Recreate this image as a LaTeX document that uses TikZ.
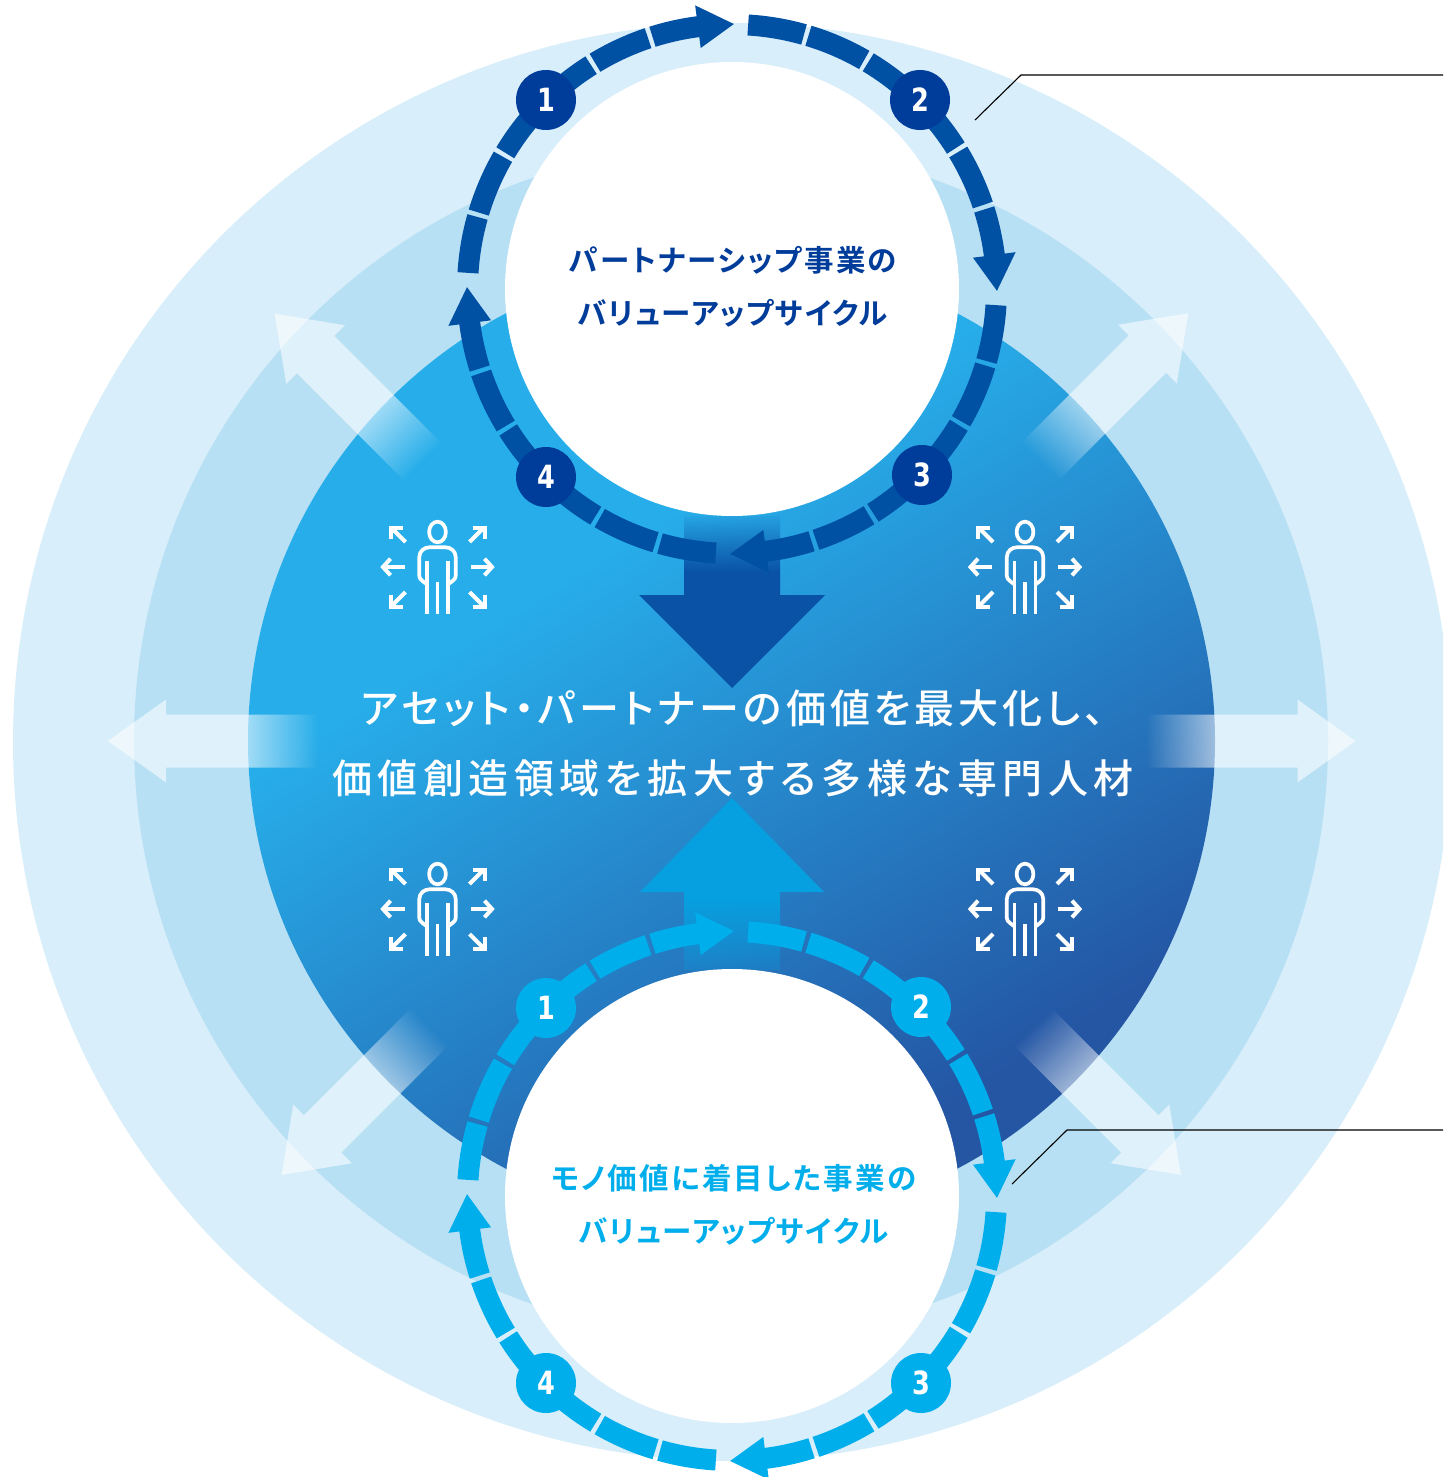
\documentclass[tikz,border=0pt]{standalone}
\usepackage{fontspec}
\usetikzlibrary{fadings}
\newfontfamily\jpboldA{Noto Sans CJK JP Bold}[RawFeature={+palt},LetterSpace=7.5]
\newfontfamily\jpboldB{Noto Sans CJK JP Bold}[RawFeature={+palt},LetterSpace=5]
\newfontfamily\jpbigA{Noto Sans CJK JP Medium}[RawFeature={+palt},LetterSpace=10]
\newfontfamily\jpbigB{Noto Sans CJK JP Medium}[RawFeature={+palt},LetterSpace=13.7]
\newfontfamily\numfont{DejaVu Sans Bold}[FakeStretch=0.8]
\definecolor{outerC}{HTML}{D8EEFA}
\definecolor{midC}{HTML}{B8E0F4}
\definecolor{coreA}{HTML}{27AEEA}
\definecolor{coreB}{HTML}{2456A4}
\definecolor{darkring}{HTML}{0050A4}
\definecolor{darkbadge}{HTML}{003C9A}
\definecolor{lightring}{HTML}{00AEEC}
\definecolor{downC}{HTML}{0A52A6}
\definecolor{upC}{HTML}{06A0E0}
\pgfdeclarehorizontalshading{coreshade}{100bp}{color(0bp)=(coreA);color(38bp)=(coreA);color(72bp)=(coreB);color(100bp)=(coreB)}
\begin{tikzfadingfrompicture}[name=whitearrowfade,x=1pt,y=1pt]
\shade[left color=transparent!100,right color=transparent!0] (-105,-60) rectangle (-35,60);
\fill[transparent!0] (-36,-60) rectangle (106,60);
\end{tikzfadingfrompicture}
\begin{tikzfadingfrompicture}[name=bigarrowfade,x=1pt,y=1pt]
\shade[left color=transparent!100,right color=transparent!0] (-90,-110) rectangle (-30,110);
\fill[transparent!0] (-31,-110) rectangle (90,110);
\end{tikzfadingfrompicture}
\begin{tikzfadingfrompicture}[name=uparrowfade,x=1pt,y=1pt]
\shade[left color=transparent!82,right color=transparent!0] (-90,-110) rectangle (-12,110);
\fill[transparent!0] (-13,-110) rectangle (90,110);
\end{tikzfadingfrompicture}
\tikzset{
  iconline/.style={draw=white,line width=3.7pt,line join=round},
  iconarrow/.style={draw=white,line width=4pt},
  leader/.style={draw=black,line width=1.1pt},
  personicon/.pic={
    \draw[iconline] (0,-35) ellipse [x radius=8.4pt,y radius=10.3pt];
    \draw[iconline] (-10.5,17.5) -- (-15,14) .. controls (-17,12.5) and (-18.2,11) .. (-18.2,9) -- (-18.2,-10) .. controls (-18.2,-16) and (-13,-19.7) .. (-8,-19.7) -- (8,-19.7) .. controls (13,-19.7) and (18.2,-16) .. (18.2,-10) -- (18.2,9) .. controls (18.2,11) and (17,12.5) .. (15,14) -- (10.5,17.5);
    \draw[iconline] (-10.5,-6) -- (-10.5,46.7) (10.5,-6) -- (10.5,46.7) (0,15) -- (0,46.7);
    \foreach \sx in {-1,1}{
      \draw[iconarrow] (\sx*33,0) -- (\sx*53,0);
      \draw[iconarrow] (\sx*47,-8.3) -- (\sx*54.5,0) -- (\sx*47,8.3);
      \draw[iconarrow] (\sx*32,-25) -- (\sx*46,-39);
      \draw[iconarrow] (\sx*35,-39.5) -- (\sx*47,-39.5) -- (\sx*47,-28);
      \draw[iconarrow] (\sx*32,25) -- (\sx*46,39);
      \draw[iconarrow] (\sx*35,39.5) -- (\sx*47,39.5) -- (\sx*47,28);
    }
  }
}
% whole cycle ring: cx, cy, colour
\newcommand{\ringseg}[5]{\draw[#3,line width=21pt,line join=round] plot[domain=#4:#5,samples=22,variable=\t] ({#1+264.5*sin(\t)},{#2-264.5*cos(\t)});}
\newcommand{\quadrant}[4]{%
  \ringseg{#1}{#2}{#3}{#4+3.5}{#4+15.8}
  \ringseg{#1}{#2}{#3}{#4+16.8}{#4+30}
  \ringseg{#1}{#2}{#3}{#4+31}{#4+57.8}
  \ringseg{#1}{#2}{#3}{#4+58.8}{#4+71.5}
  \ringseg{#1}{#2}{#3}{#4+72.5}{#4+83}
  \fill[#3] ({#1+286*sin(#4+82.6)},{#2-286*cos(#4+82.6)}) -- ({#1+265*sin(#4+90.4)},{#2-265*cos(#4+90.4)}) -- ({#1+243*sin(#4+82.6)},{#2-243*cos(#4+82.6)}) -- cycle;
}
\newcommand{\whitearrow}[3]{%
  \begin{scope}[transform canvas={shift={(#1,#2)},rotate=#3}]
    \fill[white,opacity=0.56,path fading=whitearrowfade,fit fading=false]
      (-104.5,-26.5) -- (46.5,-26.5) -- (46.5,-41.5) -- (104.5,0) -- (46.5,41.5) -- (46.5,26.5) -- (-104.5,26.5) -- cycle;
  \end{scope}
}
\begin{document}
\begin{tikzpicture}[x=1pt,y=-1pt]
\useasboundingbox (0,0) rectangle (1443,1477);
\clip (0,0) rectangle (1443,1477);
\fill[white] (0,0) rectangle (1443,1477);
% concentric discs
\fill[outerC] (732,742) circle [radius=719pt];
\fill[midC] (731,741) circle [radius=597pt];
\shade[shading=coreshade,shading angle=-58] (731.5,741) circle [radius=483.5pt];
% big vertical arrows
\begin{scope}[transform canvas={shift={(732,602)},rotate=-90}]
  \fill[downC,path fading=bigarrowfade,fit fading=false]
    (-86,-48) -- (-7,-48) -- (-7,-93) -- (86,0) -- (-7,93) -- (-7,48) -- (-86,48) -- cycle;
\end{scope}
\begin{scope}[transform canvas={shift={(732,884)},rotate=90}]
  \fill[upC,path fading=uparrowfade,fit fading=false]
    (-86,-48) -- (-8,-48) -- (-8,-92) -- (86,0) -- (-8,92) -- (-8,48) -- (-86,48) -- cycle;
\end{scope}
% white radiating arrows
\whitearrow{212.5}{741}{180}
\whitearrow{1251}{741}{0}
\whitearrow{348.5}{387.5}{135}
\whitearrow{1114.5}{387}{45}
\whitearrow{355.5}{1101}{225}
\whitearrow{1107}{1101}{315}
% white discs
\fill[white] (732,289) circle [radius=227pt];
\fill[white] (732,1196) circle [radius=227pt];
% leaders
\draw[leader] (975,120) -- (1021,75) -- (1443,75);
\draw[leader] (1012,1184) -- (1067,1130) -- (1443,1130);
% rings
\quadrant{732}{289}{darkring}{0}
\quadrant{732}{289}{darkring}{90}
\quadrant{732}{289}{darkring}{180}
\quadrant{732}{289}{darkring}{270}
\quadrant{732}{1196}{lightring}{0}
\quadrant{732}{1196}{lightring}{90}
\quadrant{732}{1196}{lightring}{180}
\quadrant{732}{1196}{lightring}{270}
% badges
\tikzset{badge/.style={circle,minimum size=60pt,inner sep=0pt,text=white,font=\numfont\fontsize{32}{32}\selectfont}}
\node[badge,fill=darkbadge] (a1) at (546,100) {1};
\node[badge,fill=darkbadge] (a2) at (920,100) {2};
\node[badge,fill=darkbadge] (a3) at (922,475) {3};
\node[badge,fill=darkbadge] (a4) at (546,477) {4};
\node[badge,fill=lightring] (b1) at (546,1008) {1};
\node[badge,fill=lightring] (b2) at (921,1007) {2};
\node[badge,fill=lightring] (b3) at (921,1383) {3};
\node[badge,fill=lightring] (b4) at (546,1383) {4};
% labels
\tikzset{cyclelabelA/.style={inner sep=0pt,font=\jpboldA\fontsize{29.5}{31}\selectfont},
         cyclelabelB/.style={inner sep=0pt,font=\jpboldB\fontsize{29.5}{31}\selectfont}}
\node[cyclelabelA,text=darkbadge] (t1) at (733,260) {パートナーシップ事業の};
\node[cyclelabelB,text=darkbadge] (t2) at (733,313) {バリューアップサイクル};
\node[cyclelabelA,text=lightring] (t3) at (734,1178) {モノ価値に着目した事業の};
\node[cyclelabelB,text=lightring] (t4) at (734,1231) {バリューアップサイクル};
\node[inner sep=0pt,text=white,font=\jpbigA\fontsize{40}{42}\selectfont] (c1) at (733,708) {アセット・パートナーの価値を最大化し、};
\node[inner sep=0pt,text=white,font=\jpbigB\fontsize{40}{42}\selectfont] (c2) at (733,778) {価値創造領域を拡大する多様な専門人材};
% person icons
\pic at (437.5,567) {personicon};
\pic at (1025,567) {personicon};
\pic at (437.5,909) {personicon};
\pic at (1025,909) {personicon};
\end{tikzpicture}
\end{document}
